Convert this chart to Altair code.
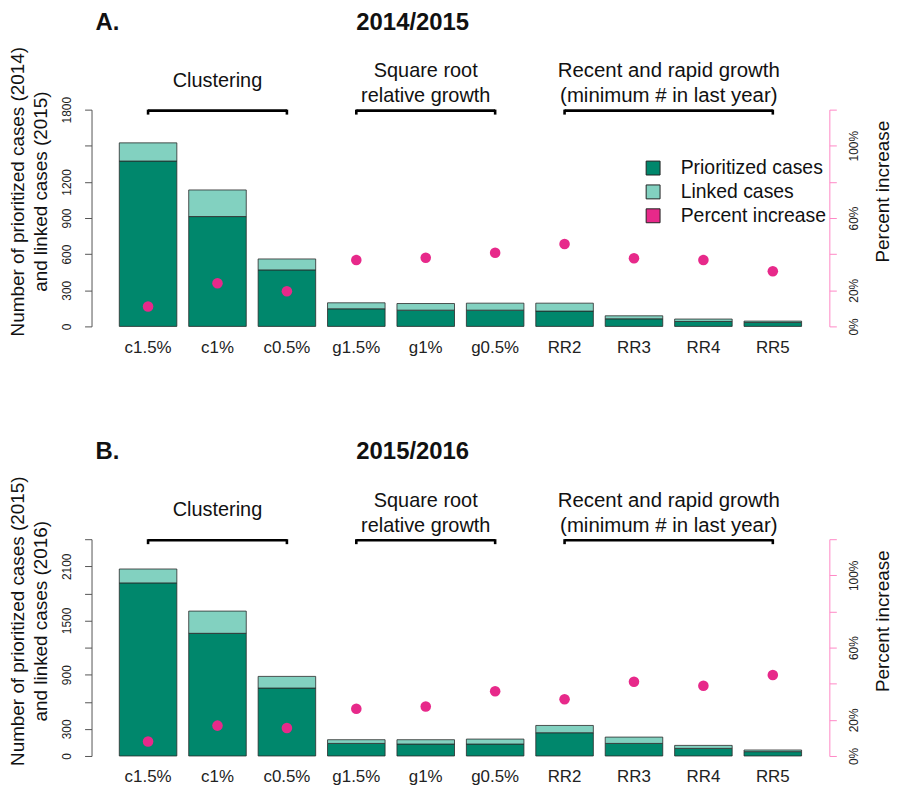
import altair as alt
import pandas as pd

# ---------------- data ----------------
categories = ["c1.5%", "c1%", "c0.5%", "g1.5%", "g1%", "g0.5%", "RR2", "RR3", "RR4", "RR5"]

# Panel A (2014/2015)
prior_a = [1373, 912, 469, 146, 135, 135, 127, 63, 41, 33]
linked_a = [151, 221, 91, 50, 55, 58, 66, 25, 20, 11]
pct_a = [11.0, 23.9, 19.5, 36.8, 38.0, 40.8, 45.6, 37.7, 36.8, 30.5]

# Panel B (2015/2016)
prior_b = [1916, 1358, 752, 139, 132, 132, 257, 139, 84, 48]
linked_b = [154, 246, 129, 41, 48, 55, 81, 70, 33, 18]
pct_b = [8.0, 16.8, 15.5, 26.1, 27.4, 35.8, 31.4, 41.1, 38.9, 44.8]

series_names = ["Prioritized cases", "Linked cases", "Percent increase"]

group_single = ["Clustering"]
group_single_mid = ["c1%"]
group_double = ["Square root\nrelative growth"]
group_double_mid = ["g1%"]
group_rr = ["Recent and rapid growth\n(minimum # in last year)"]
group_rr_mid = ["RR3"]
group_start = ["c1.5%", "g1.5%", "RR2"]
group_end = ["c0.5%", "g0.5%", "RR5"]

ticks_a = [0, 300, 600, 900, 1200, 1500, 1800]
shown_a = [0, 300, 600, 900, 1200, 1800]
ticks_b = [0, 300, 600, 900, 1200, 1500, 1800, 2100, 2400]
shown_b = [0, 300, 900, 1500, 2100]
pct_ticks = [0, 20, 40, 60, 80, 100, 120]
pct_shown = [0, 20, 60, 100]

# ---------------- style ----------------
DARK = "#00876C"
LIGHT = "#82D1C0"
PINK = "#E7298A"
AXIS_PINK = "#FF88C6"
FONT = "Liberation Sans"

color_scale = alt.Scale(domain=series_names, range=[DARK, LIGHT, PINK])
legend = alt.Legend(
    title=None, orient="none", legendX=555, legendY=49,
    symbolType="square", symbolSize=196, symbolStrokeColor="#222",
    symbolStrokeWidth=1, symbolOpacity=1, labelFontSize=19.5, labelFont=FONT,
    labelOffset=18, rowPadding=3, padding=0, labelColor="#111",
)
x_axis = alt.Axis(title=None, domain=False, ticks=False, labelAngle=0,
                  labelFontSize=17, labelPadding=13, labelColor="#222",
                  labelFont=FONT, grid=False)


def xscale():
    return alt.Scale(domain=categories, paddingInner=0.171, paddingOuter=0.4)


def panel(letter, period, prior, linked, pct, ticks, shown, ytitle):
    n = len(categories)
    totals = [p + l for p, l in zip(prior, linked)]
    bars = pd.DataFrame({
        "category": categories * 2,
        "series": [series_names[0]] * n + [series_names[1]] * n,
        "lo": [0] * n + list(prior),
        "hi": list(prior) + totals,
    })
    pts = pd.DataFrame({"category": categories, "pct": pct, "series": series_names[2]})

    left_axis = alt.Axis(
        values=ticks,
        labelExpr="indexof(%s, datum.value) >= 0 ? '' + datum.value : ''" % str(shown),
        title=ytitle, titleFontSize=19, titleFontWeight="normal", titleAngle=-90,
        titleAlign="center", titleBaseline="middle", titleX=-74.5, titleY=82,
        titleLineHeight=23, titleColor="#111", titleFont=FONT,
        domainColor="#555", tickColor="#555", tickSize=7,
        labelAngle=-90, labelAlign="center", labelBaseline="bottom",
        labelPadding=11, labelFontSize=12, labelColor="#222", labelFont=FONT,
        grid=False,
    )
    right_axis = alt.Axis(
        orient="right", values=pct_ticks,
        labelExpr="indexof(%s, datum.value) >= 0 ? datum.value + '%%' : ''" % str(pct_shown),
        title="Percent increase", titleFontSize=19, titleFontWeight="normal",
        titleAngle=-90, titleAlign="center", titleBaseline="middle",
        titleX=53, titleY=82, titleColor="#111", titleFont=FONT,
        domainColor=AXIS_PINK, tickColor=AXIS_PINK, tickSize=7,
        labelAngle=-90, labelAlign="center", labelBaseline="top",
        labelPadding=12, labelFontSize=12, labelColor="#222", labelFont=FONT,
        grid=False,
    )

    bar_layer = alt.Chart(bars).mark_bar(stroke="#2a2a2a", strokeWidth=0.8).encode(
        x=alt.X("category:N", scale=xscale(), axis=x_axis),
        y=alt.Y("hi:Q", scale=alt.Scale(domain=[ticks[0], ticks[-1]], nice=False), axis=left_axis),
        y2="lo:Q",
        color=alt.Color("series:N", scale=color_scale, legend=legend),
    )
    pt_layer = alt.Chart(pts).mark_circle(size=113, opacity=1).encode(
        x=alt.X("category:N", scale=xscale(), axis=x_axis),
        y=alt.Y("pct:Q", scale=alt.Scale(domain=[pct_ticks[0], pct_ticks[-1]], nice=False), axis=right_axis),
        color=alt.Color("series:N", scale=color_scale, legend=legend),
    )

    grp = pd.DataFrame({"start": group_start, "end": group_end})
    bracket = alt.Chart(grp).mark_rule(color="black", strokeWidth=2.6).encode(
        x=alt.X("start:N", scale=xscale(), axis=x_axis),
        x2="end:N",
        y=alt.value(1),
    )
    ends = pd.DataFrame({"pos": group_start + group_end})
    bracket_ends = alt.Chart(ends).mark_rule(color="black", strokeWidth=2.6).encode(
        x=alt.X("pos:N", scale=xscale(), axis=x_axis),
        y=alt.value(0),
        y2=alt.value(5),
    )
    t1 = alt.Chart(pd.DataFrame({"label": group_single, "mid": group_single_mid})).mark_text(
        fontSize=20, font=FONT, baseline="middle", align="center", color="#111"
    ).encode(x=alt.X("mid:N", scale=xscale(), axis=x_axis), y=alt.value(-29), text="label:N")
    t2 = alt.Chart(pd.DataFrame({"label": group_double, "mid": group_double_mid})).mark_text(
        fontSize=20, font=FONT, baseline="middle", align="center", lineBreak="\n",
        lineHeight=25, color="#111"
    ).encode(x=alt.X("mid:N", scale=xscale(), axis=x_axis), y=alt.value(-38.7), text="label:N")
    t3 = alt.Chart(pd.DataFrame({"label": group_rr, "mid": group_rr_mid})).mark_text(
        fontSize=20.5, font=FONT, baseline="middle", align="center", lineBreak="\n",
        lineHeight=25, color="#111", dx=35
    ).encode(x=alt.X("mid:N", scale=xscale(), axis=x_axis), y=alt.value(-38.7), text="label:N")

    title_letter = alt.Chart(pd.DataFrame({"t": [letter]})).mark_text(
        fontSize=24, fontWeight="bold", font=FONT, align="left", baseline="alphabetic", color="#111"
    ).encode(x=alt.value(4), y=alt.value(-80.5), text="t:N")
    title_period = alt.Chart(pd.DataFrame({"t": [period]})).mark_text(
        fontSize=24, fontWeight="bold", font=FONT, align="center", baseline="alphabetic", color="#111"
    ).encode(x=alt.value(323), y=alt.value(-80.5), text="t:N")

    return alt.layer(
        bar_layer, pt_layer, bracket, bracket_ends, t1, t2, t3, title_letter, title_period
    ).resolve_scale(y="independent").properties(width=742, height=218)


panel_a = panel("A.", "2014/2015", prior_a, linked_a, pct_a, ticks_a, shown_a,
                ["Number of prioritized cases (2014)", "and linked cases (2015)"])
panel_b = panel("B.", "2015/2016", prior_b, linked_b, pct_b, ticks_b, shown_b,
                ["Number of prioritized cases (2015)", "and linked cases (2016)"])

chart = (
    alt.vconcat(panel_a, panel_b, spacing=85)
    .properties(padding=0)
    .configure(font=FONT)
    .configure_view(stroke=None)
)

chart.save("out.html", embed_options={"renderer": "svg", "actions": False})
